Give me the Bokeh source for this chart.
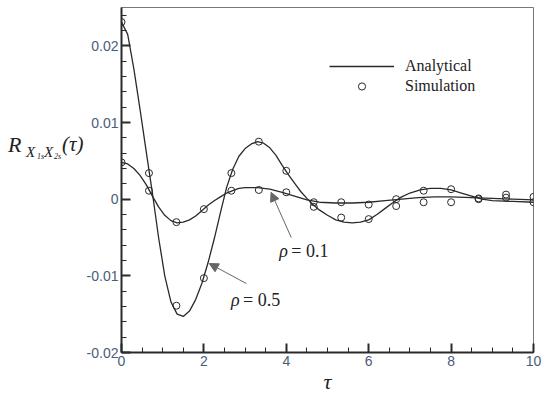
from bokeh.plotting import figure
from bokeh.models import (Range1d, FixedTicker, Label, Arrow, NormalHead,
                          Legend, LegendItem, Div)
from bokeh.layouts import row
from bokeh.embed import file_html
from bokeh.resources import INLINE

# ---------------- data ----------------
tau_sim = [0, 0.667, 1.333, 2, 2.667, 3.333, 4, 4.667, 5.333, 6, 6.667,
           7.333, 8, 8.667, 9.333, 10]
sim_rho05 = [0.0231, 0.0034, -0.0139, -0.0103, 0.0034, 0.0075, 0.0037,
             -0.0010, -0.0024, -0.0026, -0.0009, 0.0011, 0.0013, 0.0001,
             0.0006, -0.0004]
sim_rho01 = [0.0048, 0.0011, -0.0030, -0.0013, 0.0011, 0.0012, 0.0009,
             -0.0004, -0.0004, -0.0007, 0.0000, -0.0004, -0.0004, 0.0000,
             0.0002, 0.0003]

tau_a05 = [0.00, 0.15, 0.30, 0.45, 0.60, 0.75, 0.90, 1.05, 1.20, 1.35, 1.50,
           1.65, 1.80, 1.95, 2.10, 2.25, 2.40, 2.55, 2.70, 2.85, 3.00, 3.15,
           3.30, 3.45, 3.60, 3.75, 3.90, 4.05, 4.20, 4.35, 4.50, 4.65, 4.80,
           5.00, 5.20, 5.40, 5.60, 5.80, 6.00, 6.20, 6.40, 6.60, 6.80, 7.00,
           7.25, 7.50, 7.75, 8.00, 8.25, 8.50, 8.75, 9.00, 9.50, 10.0]
ana_rho05 = [0.0231, 0.0215, 0.0170, 0.0117, 0.0062, 0.0008, -0.0050,
             -0.0100, -0.0134, -0.0150, -0.0153, -0.0146, -0.0131, -0.0110,
             -0.0083, -0.0052, -0.0018, 0.0015, 0.0039, 0.0056, 0.0066,
             0.0072, 0.0075, 0.0073, 0.0067, 0.0057, 0.0044, 0.0032, 0.0021,
             0.0010, 0.0001, -0.0007, -0.0014, -0.0021, -0.0027, -0.0030,
             -0.0031, -0.0030, -0.0027, -0.0020, -0.0012, -0.0004, 0.0003,
             0.0008, 0.0012, 0.0014, 0.0014, 0.0012, 0.0008, 0.0004, 0.0000,
             -0.0002, -0.0003, -0.0004]

tau_a01 = [0.00, 0.15, 0.30, 0.45, 0.60, 0.75, 0.90, 1.05, 1.20, 1.35, 1.50,
           1.65, 1.80, 1.95, 2.10, 2.25, 2.40, 2.55, 2.70, 2.85, 3.00, 3.30,
           3.60, 3.90, 4.20, 4.50, 4.80, 5.20, 5.60, 6.00, 6.40, 6.80, 7.20,
           7.60, 8.00, 8.50, 9.00, 9.50, 10.0]
ana_rho01 = [0.0048, 0.0046, 0.0040, 0.0031, 0.0019, 0.0004, -0.0010,
             -0.0021, -0.0028, -0.0031, -0.0030, -0.0027, -0.0022, -0.0015,
             -0.0008, -0.0002, 0.0003, 0.0008, 0.0011, 0.0014, 0.0015,
             0.0015, 0.0013, 0.0009, 0.0004, -0.0001, -0.0004, -0.0005,
             -0.0005, -0.0004, -0.0002, 0.0000, 0.0002, 0.0003, 0.0003,
             0.0002, 0.0001, 0.0000, -0.0001]

x_ticks = [0, 2, 4, 6, 8, 10]
x_minor = [i * 0.5 for i in range(21)]
y_ticks = [-0.02, -0.01, 0, 0.01, 0.02]
y_tick_labels = ["-0.02", "-0.01", "0", "0.01", "0.02"]
y_minor = [round(-0.02 + i * 0.002, 3) for i in range(23)]

# ---------------- figure ----------------
INK = "#2a2a2a"
TXT = "#222222"
TICK_TXT = "#4a5c7a"
SERIF = "Liberation Serif"

p = figure(width=467, height=399, output_backend="svg", toolbar_location=None,
           x_range=Range1d(0, 10), y_range=Range1d(-0.02, 0.025),
           min_border_left=37, min_border_right=17, min_border_top=7,
           min_border_bottom=47, margin=0)
p.background_fill_color = "white"
p.border_fill_color = None
p.grid.visible = False
p.outline_line_color = "#777777"
p.outline_line_width = 1

for ax in (p.xaxis[0], p.yaxis[0]):
    ax.axis_line_color = INK
    ax.axis_line_width = 2
    ax.major_tick_in = 9
    ax.major_tick_out = 0
    ax.minor_tick_in = 5
    ax.minor_tick_out = 0
    ax.major_tick_line_color = INK
    ax.major_tick_line_width = 2
    ax.minor_tick_line_color = INK
    ax.minor_tick_line_width = 1
    ax.major_label_text_font = "Liberation Sans"
    ax.major_label_text_font_size = "14px"
    ax.major_label_text_color = TICK_TXT

p.xaxis[0].ticker = FixedTicker(ticks=x_ticks, minor_ticks=x_minor)
p.xaxis[0].major_label_standoff = 3
p.xaxis[0].axis_label = "τ"
p.xaxis[0].axis_label_text_font = SERIF
p.xaxis[0].axis_label_text_font_style = "italic"
p.xaxis[0].axis_label_text_font_size = "22px"
p.xaxis[0].axis_label_text_color = TXT
p.xaxis[0].axis_label_standoff = 0

p.yaxis[0].ticker = FixedTicker(ticks=y_ticks, minor_ticks=y_minor)
p.yaxis[0].major_label_overrides = {t: s for t, s in zip(y_ticks, y_tick_labels)}
p.yaxis[0].major_label_standoff = 3

# curves and points
l1 = p.line(tau_a05, ana_rho05, line_color=INK, line_width=1.3)
p.line(tau_a01, ana_rho01, line_color=INK, line_width=1.3)
c1 = p.scatter(tau_sim, sim_rho05, marker="circle", size=7, fill_color=None,
               line_color=INK, line_width=1)
p.scatter(tau_sim, sim_rho01, marker="circle", size=7, fill_color=None,
          line_color=INK, line_width=1)

# legend
legend = Legend(items=[LegendItem(label="Analytical", renderers=[l1]),
                       LegendItem(label="Simulation", renderers=[c1])],
                location=(208, 257), glyph_width=65, glyph_height=18,
                label_height=18, label_standoff=11, spacing=2, padding=0,
                margin=0, border_line_alpha=0, background_fill_alpha=0,
                label_text_font=SERIF, label_text_font_size="16px",
                label_text_color=TXT)
p.add_layout(legend, "center")

# annotations (arrows + rho labels)
ARROW = "#666666"
p.add_layout(Arrow(end=NormalHead(size=9, fill_color=ARROW, line_color=ARROW),
                   x_start=4.12, y_start=-0.0050, x_end=3.63, y_end=0.0009,
                   line_color=ARROW, line_width=1))
p.add_layout(Arrow(end=NormalHead(size=9, fill_color=ARROW, line_color=ARROW),
                   x_start=3.03, y_start=-0.0110, x_end=2.13, y_end=-0.0084,
                   line_color=ARROW, line_width=1))

for (lx, ly, txt) in [(3.83, -0.0068, "= 0.1"), (2.66, -0.0132, "= 0.5")]:
    p.add_layout(Label(x=lx, y=ly, text="ρ", text_font=SERIF,
                       text_font_style="italic", text_font_size="18px",
                       text_color=TXT, text_baseline="alphabetic"))
    p.add_layout(Label(x=lx, y=ly, x_offset=12, text=txt, text_font=SERIF,
                       text_font_size="18px", text_color=TXT,
                       text_baseline="alphabetic"))

# y-axis title R_{X1s X2s}(tau) as real HTML text
def span(txt, left, baseline, size):
    top = baseline - 0.8375 * size
    return (f'<span style="position:absolute;left:{left}px;top:{top:.1f}px;'
            f'font-family:\'{SERIF}\';font-style:italic;font-size:{size}px;'
            f'line-height:1;color:{TXT};white-space:nowrap">{txt}</span>')

ylabel_html = ('<div style="position:relative;width:83px;height:399px;'
               'overflow:visible">'
               + span("R", 8, 152, 22)
               + span("X", 26, 158, 15)
               + span("1s", 37, 160, 8)
               + span("X", 44, 158, 15)
               + span("2s", 54, 160, 8)
               + span("(τ)", 62, 152, 21)
               + '</div>')
ylab = Div(text=ylabel_html, width=83, height=399, margin=0,
           styles={"overflow": "visible"})

layout = row(ylab, p, spacing=0, margin=0)

open("out.html", "w").write(file_html(layout, INLINE))
